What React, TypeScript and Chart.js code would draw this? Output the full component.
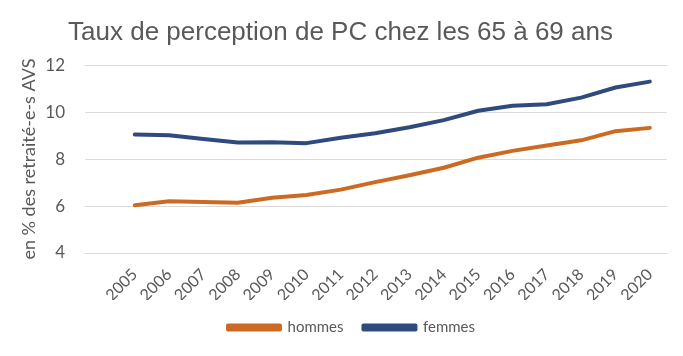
import React, { useEffect, useRef } from "react";
import { Chart, registerables } from "chart.js";

Chart.register(...registerables);

const years = [2005, 2006, 2007, 2008, 2009, 2010, 2011, 2012, 2013, 2014, 2015, 2016, 2017, 2018, 2019, 2020];
const hommes = [6.03, 6.2, 6.17, 6.14, 6.35, 6.47, 6.7, 7.02, 7.31, 7.63, 8.06, 8.35, 8.58, 8.8, 9.19, 9.33];
const femmes = [9.05, 9.02, 8.86, 8.71, 8.72, 8.68, 8.91, 9.1, 9.36, 9.66, 10.06, 10.27, 10.34, 10.62, 11.05, 11.3];
const yTicks = [4, 6, 8, 10, 12];

const TITLE = "Taux de perception de PC chez les 65 à 69 ans";
const Y_TITLE = "en % des retraité-e-s AVS";
const ORANGE = "#CC6A22";
const BLUE = "#2F4B7D";
const GREY = "#595959";
const FONT = "Lato, 'Liberation Sans', sans-serif";

const shiftPlugin = {
  id: "shiftBlocks",
  afterLayout(chart: any) {
    const lg = chart.legend;
    if (lg) {
      lg.left += 18;
      lg.right += 18;
    }
    const tb = chart.titleBlock;
    if (tb) {
      tb.left += 7;
      tb.right += 7;
    }
  },
};

export default function App() {
  const ref = useRef<HTMLCanvasElement | null>(null);
  useEffect(() => {
    document.body.style.margin = "0";
    const ctx = ref.current!.getContext("2d")!;
    const chart = new Chart(ctx, {
      type: "line",
      data: {
        datasets: [
          {
            label: "hommes",
            data: years.map((y, i) => ({ x: y, y: hommes[i] })),
            borderColor: ORANGE,
            backgroundColor: ORANGE,
            borderWidth: 4,
            pointRadius: 0,
            tension: 0,
            borderCapStyle: "round",
            borderJoinStyle: "round",
          },
          {
            label: "femmes",
            data: years.map((y, i) => ({ x: y, y: femmes[i] })),
            borderColor: BLUE,
            backgroundColor: BLUE,
            borderWidth: 4,
            pointRadius: 0,
            tension: 0,
            borderCapStyle: "round",
            borderJoinStyle: "round",
          },
        ],
      },
      plugins: [shiftPlugin],
      options: {
        animation: false,
        responsive: false,
        maintainAspectRatio: false,
        layout: { padding: { top: 0, left: 0, right: 16, bottom: 11 } },
        plugins: {
          tooltip: { enabled: false },
          title: {
            display: true,
            text: TITLE,
            color: GREY,
            font: { family: "'Liberation Sans', Arial, sans-serif", size: 26, weight: "normal" },
            padding: { top: 17, bottom: 17 },
          },
          legend: {
            position: "bottom",
            labels: {
              color: GREY,
              font: { family: FONT, size: 15 },
              boxWidth: 52,
              boxHeight: 4,
              padding: 20,
            },
          },
        },
        scales: {
          x: {
            type: "linear",
            min: 2003.55,
            max: 2020.5,
            grid: { display: false },
            border: { display: false },
            afterBuildTicks: (s: any) => {
              s.ticks = years.map((v) => ({ value: v }));
            },
            afterFit: (s: any) => {
              s.height = 47;
            },
            ticks: {
              autoSkip: false,
              minRotation: 45,
              maxRotation: 45,
              color: GREY,
              font: { family: FONT, size: 16 },
              padding: 4,
              callback: (v: any) => String(v),
            },
          },
          y: {
            min: 4,
            max: 12,
            afterBuildTicks: (s: any) => {
              s.ticks = yTicks.map((v) => ({ value: v }));
            },
            afterFit: (s: any) => {
              s.width = 85;
            },
            grid: { color: "#D9D9D9", lineWidth: 1, drawTicks: false },
            border: { display: false },
            ticks: {
              color: GREY,
              font: { family: FONT, size: 17 },
              padding: 20,
            },
            title: {
              display: true,
              text: Y_TITLE,
              color: GREY,
              font: { family: FONT, size: 18 },
              padding: { top: 18, bottom: 0 },
            },
          },
        },
      },
    });
    return () => chart.destroy();
  }, []);
  return (
    <div style={{ position: "fixed", left: 0, top: 0, width: 683, height: 356, background: "#fff" }}>
      <canvas ref={ref} width={683} height={356} style={{ width: 683, height: 356 }} />
    </div>
  );
}
